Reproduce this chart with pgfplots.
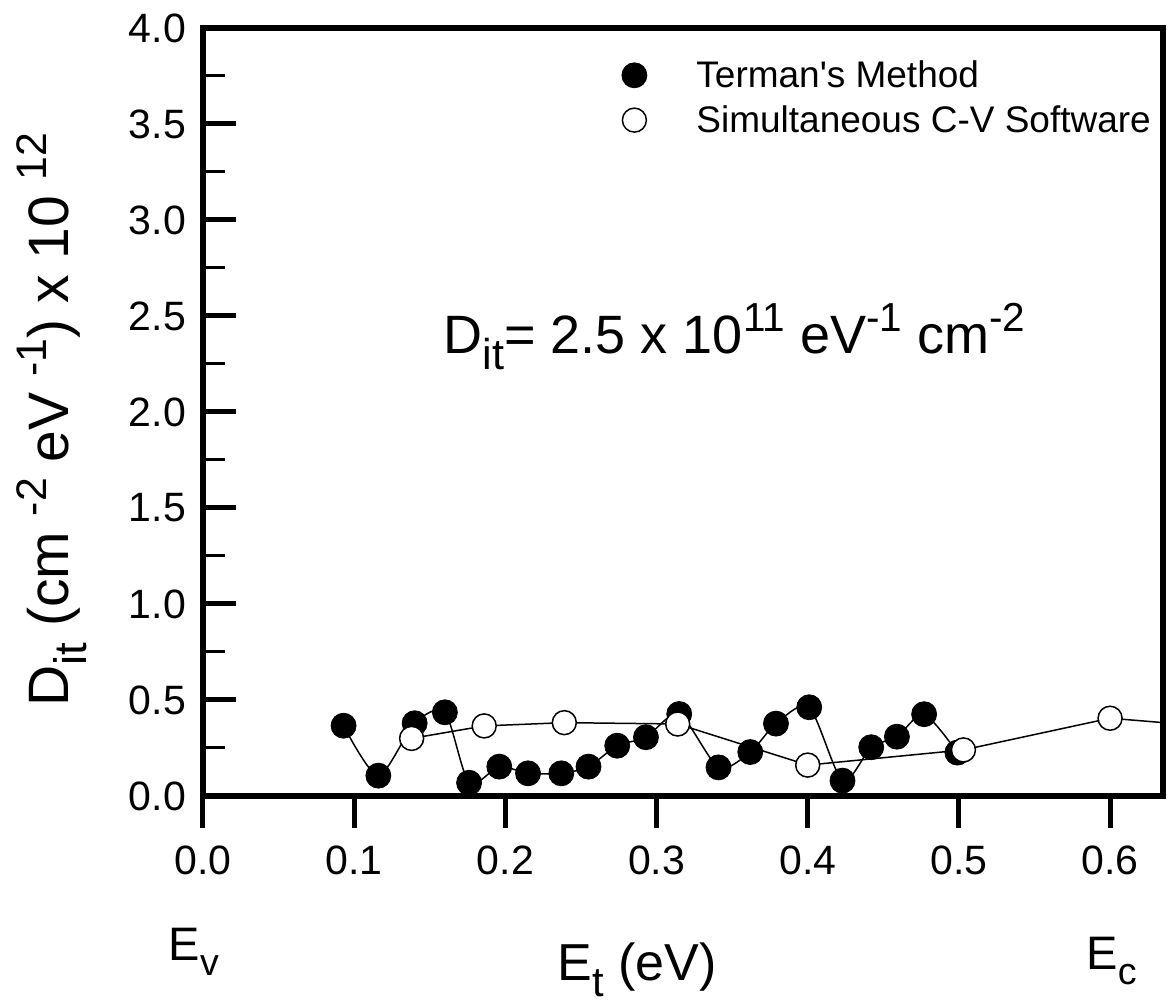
\documentclass[border=0pt]{standalone}
\usepackage{graphicx}
\usepackage{pgfplots}
\pgfplotsset{compat=1.18}
\usepackage{fontspec}
\setmainfont{Liberation Sans}

% raised / lowered small text, as the plotting program sets it
\newcommand{\su}[1]{\raisebox{0.40em}{\scalebox{0.75}{#1}}}
\newcommand{\sd}[1]{\raisebox{-0.30em}{\scalebox{0.8}{#1}}}

\pgfplotstableread{
x     y
0.093 0.366
0.116 0.106
0.140 0.379
0.160 0.436
0.176 0.069
0.196 0.153
0.215 0.118
0.237 0.118
0.255 0.153
0.274 0.262
0.293 0.306
0.315 0.427
0.341 0.149
0.362 0.229
0.379 0.377
0.401 0.462
0.423 0.080
0.442 0.254
0.459 0.309
0.477 0.426
0.499 0.226
}\terman

\pgfplotstableread{
x     y
0.138 0.300
0.186 0.365
0.239 0.382
0.314 0.375
0.400 0.161
0.503 0.240
0.600 0.405
}\simcv

% same series, with the segment that runs out past the right edge
\pgfplotstableread{
x     y
0.138 0.300
0.186 0.365
0.239 0.382
0.314 0.375
0.400 0.161
0.503 0.240
0.600 0.405
0.700 0.340
}\simcvline

\begin{document}
\begin{tikzpicture}
\begin{axis}[
    name=ax,
    scale only axis,
    width=480pt, height=384pt,
    xmin=0, xmax=0.635, ymin=0, ymax=4,
    clip mode=individual,
    axis line style={line width=2.8pt},
    tick pos=left,
    tick align=inside,
    xtick={0,0.1,0.2,0.3,0.4,0.5,0.6},
    ytick={0,0.5,1,1.5,2,2.5,3,3.5,4},
    minor y tick num=1,
    major tick length=16.5pt,
    minor tick length=11pt,
    every major tick/.append style={line width=2.5pt, black},
    every minor tick/.append style={line width=1.5pt, black},
    every x tick/.append style={yshift=-16pt},
    /pgf/number format/assume math mode=true,
    tick label style={font=\fontsize{20.5}{24}\selectfont,
        /pgf/number format/fixed, /pgf/number format/fixed zerofill,
        /pgf/number format/precision=1},
    xticklabel style={yshift=-21.5pt},
    yticklabel style={xshift=-5pt},
    ylabel={D\sd{it} (cm \su{-2} eV \su{-1}) x 10 \su{12}},
    ylabel style={at={(rel axis cs:-0.158,0.49)}, anchor=center,
        font=\fontsize{28.5}{32}\selectfont},
    xlabel={E\sd{t} (eV)},
    xlabel style={at={(rel axis cs:0.452,0)}, anchor=base, yshift=-92.5pt,
        font=\fontsize{26}{30}\selectfont},
    legend style={draw=none, fill=none, at={(rel axis cs:0,1)}, anchor=north west,
        xshift=204.5pt, yshift=-12pt, row sep=3.5pt,
        font=\fontsize{18.5}{22}\selectfont},
    legend cell align=left,
    legend image code/.code={\draw[#1] plot coordinates {(0pt,0pt)};
        \path[draw=none, fill=none] (-8pt,-6pt) rectangle (29pt,6pt);},
]
\addplot[black, line width=0.75pt, smooth, tension=0.45, forget plot] table {\terman};
\addplot[only marks, mark=*, mark size=6.25pt,
    mark options={fill=black, draw=black}] table {\terman};
\addlegendentry{Terman\textquotesingle s Method}

\addplot[black, line width=0.75pt, forget plot] table {\simcvline};
\addplot[only marks, mark=*, mark size=6pt,
    mark options={fill=white, draw=black, line width=0.75pt}] table {\simcv};
\addlegendentry{Simultaneous C-V Software}

\node[anchor=base west, inner sep=0pt, font=\fontsize{27}{32}\selectfont]
    at (axis cs:0.159,2.307)
    {D\sd{it}= 2.5 x 10\su{11} eV\su{-1} cm\su{-2}};
\node[anchor=base, inner sep=0pt, font=\fontsize{23.5}{28}\selectfont]
    at ([yshift=-82.5pt]axis cs:-0.006,0) {E\sd{v}};
\node[anchor=base, inner sep=0pt, font=\fontsize{23.5}{28}\selectfont]
    at ([yshift=-87pt]axis cs:0.601,0) {E\sd{c}};
\end{axis}
\pgfresetboundingbox
\path[use as bounding box] ([xshift=-101.5pt,yshift=-105pt]ax.south west)
    rectangle ([xshift=3pt,yshift=14pt]ax.north east);
\end{tikzpicture}
\end{document}
